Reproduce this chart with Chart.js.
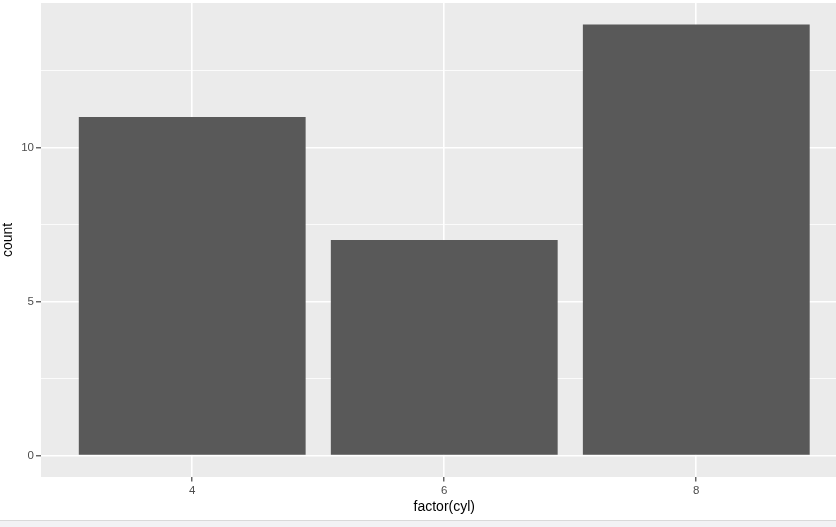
<!DOCTYPE html>
<html>
<head>
<meta charset="utf-8">
<script src="https://cdn.jsdelivr.net/npm/chart.js@4/dist/chart.umd.min.js"></script>
<style>
  html, body { margin: 0; padding: 0; overflow: hidden; background: #fff; width: 836px; height: 527px; }
  #wrap { position: absolute; left: 0; top: 0; width: 850px; height: 527px; }
  #strip { position: absolute; left: 0; top: 520px; width: 836px; height: 6px; background: #F2F2F4; border-top: 1px solid #D9D9D9; }
</style>
</head>
<body>
<div id="wrap"><canvas id="c" width="850" height="527"></canvas></div>
<div id="strip"></div>
<script>
const categories = ['4', '6', '8'];
const counts = [11, 7, 14];
const yMajorTicks = [0, 5, 10];
const yMinorTicks = [2.5, 7.5, 12.5];

const points = categories.map((c, i) => ({ x: i + 1, y: counts[i] }));

const panelBg = {
  id: 'panelBg',
  beforeDraw(chart) {
    const { ctx, chartArea: a } = chart;
    ctx.save();
    ctx.fillStyle = '#EBEBEB';
    ctx.fillRect(a.left, a.top, a.right - a.left, a.bottom - a.top);
    ctx.restore();
  }
};

const isMajorY = v => yMajorTicks.includes(v);
const FONT = 'Liberation Sans, Arial, sans-serif';

new Chart(document.getElementById('c'), {
  type: 'bar',
  data: {
    datasets: [{
      data: points,
      backgroundColor: '#595959',
      borderWidth: 0,
      barPercentage: 0.9,
      categoryPercentage: 1.0
    }]
  },
  plugins: [panelBg],
  options: {
    responsive: false,
    animation: false,
    events: [],
    layout: { padding: { top: 3, right: 2.5, left: 0, bottom: 0 } },
    plugins: { legend: { display: false }, tooltip: { enabled: false } },
    scales: {
      x: {
        type: 'linear',
        min: 0.4,
        max: 3.6,
        offset: false,
        afterBuildTicks(scale) {
          scale.ticks = categories.map((c, i) => ({ value: i + 1 }));
        },
        afterFit(scale) {
          scale.height = 50;
          scale.paddingLeft = 0;
          scale.paddingRight = 0;
        },
        border: { display: false },
        grid: {
          offset: false,
          color: '#FFFFFF',
          lineWidth: 1.6,
          tickLength: 4.5,
          tickColor: '#333333',
          tickWidth: 1.1
        },
        ticks: {
          autoSkip: false,
          maxRotation: 0,
          padding: 2,
          color: '#4D4D4D',
          font: { family: FONT, size: 11.5 },
          callback: (v) => categories[Math.round(v) - 1]
        },
        title: {
          display: true,
          text: 'factor(cyl)',
          color: '#000000',
          font: { family: FONT, size: 14 },
          padding: { top: 0, bottom: 11.5 }
        }
      },
      y: {
        type: 'linear',
        min: -0.7,
        max: 14.7,
        afterBuildTicks(scale) {
          scale.ticks = [0, 2.5, 5, 7.5, 10, 12.5].map(v => ({ value: v }));
        },
        afterFit(scale) {
          scale.width = 41;
          scale.paddingTop = 0;
          scale.paddingBottom = 0;
        },
        border: { display: false },
        grid: {
          color: '#FFFFFF',
          lineWidth: (ctx) => isMajorY(ctx.tick && ctx.tick.value) ? 1.6 : 0.8,
          tickLength: 5,
          tickColor: (ctx) => isMajorY(ctx.tick && ctx.tick.value) ? '#333333' : 'rgba(0,0,0,0)',
          tickWidth: 1.1
        },
        ticks: {
          autoSkip: false,
          padding: 2,
          color: '#4D4D4D',
          font: { family: FONT, size: 11.5 },
          callback: (v) => isMajorY(v) ? String(v) : ''
        },
        title: {
          display: true,
          text: 'count',
          color: '#000000',
          font: { family: FONT, size: 14 },
          padding: { top: 0, bottom: 0 }
        }
      }
    }
  }
});
</script>
</body>
</html>
